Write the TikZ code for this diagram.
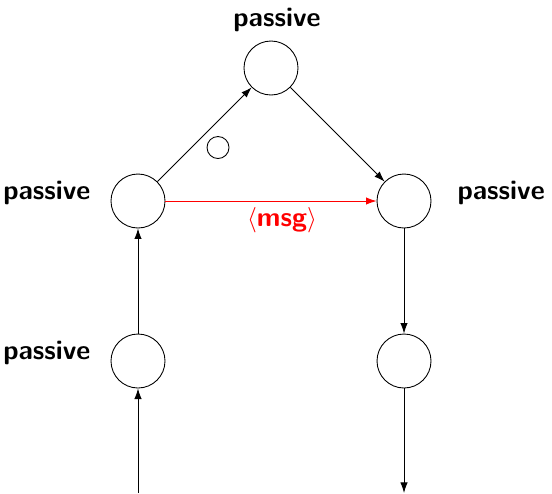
\documentclass[tikz,border=0pt]{standalone}
\usepackage{xcolor}
\usepackage{tikz}
\usetikzlibrary{arrows.meta, positioning, calc}

\begin{document}
\begin{tikzpicture}[
    state/.style={circle,draw,line width=0.5pt,minimum size=1.08cm,inner sep=0pt},
    tag/.style={font=\fontsize{15.5}{18.5}\selectfont\sffamily\bfseries},
    flow/.style={-{Latex[length=6pt,width=4.2pt]},line width=0.5pt}]
    \useasboundingbox (0,0) rectangle (11.04,-9.86);

    % Processi
    \node[state] (top) at (5.42,-1.36) {};
    \node[state] (left) at (2.76,-4.02) {};
    \node[state] (right) at (8.08,-4.02) {};
    \node[state] (lowleft) at (2.76,-7.22) {};
    \node[state] (lowright) at (8.08,-7.22) {};
    \node[state,minimum size=0.44cm] (token) at (4.36,-2.95) {};

    % Etichette
    \node[tag,anchor=base] (ltop) at ($(top.north)+(0.12,0.28)$) {passive};
    \node[tag,anchor=base east] (lleft) at ($(left.west)+(-0.28,0.04)$) {passive};
    \node[tag,anchor=base west] (lright) at ($(right.east)+(0.4,0.04)$) {passive};
    \node[tag,anchor=base east] (llowleft) at ($(lowleft.west)+(-0.28,0.04)$) {passive};
    \node[tag,text=red,anchor=base] (msg) at (5.64,-4.52) {$\langle$msg$\rangle$};

    % Estremi liberi
    \coordinate (inleft) at (2.76,-9.86);
    \coordinate (outright) at (8.08,-9.86);

    % Connessioni
    \draw[flow] (inleft) -- (lowleft);
    \draw[flow] (lowleft) -- (left);
    \draw[flow] (left) -- (top);
    \draw[flow] (top) -- (right);
    \draw[flow,red] (left) -- (right);
    \draw[flow] (right) -- (lowright);
    \draw[flow] (lowright) -- (outright);
\end{tikzpicture}
\end{document}
